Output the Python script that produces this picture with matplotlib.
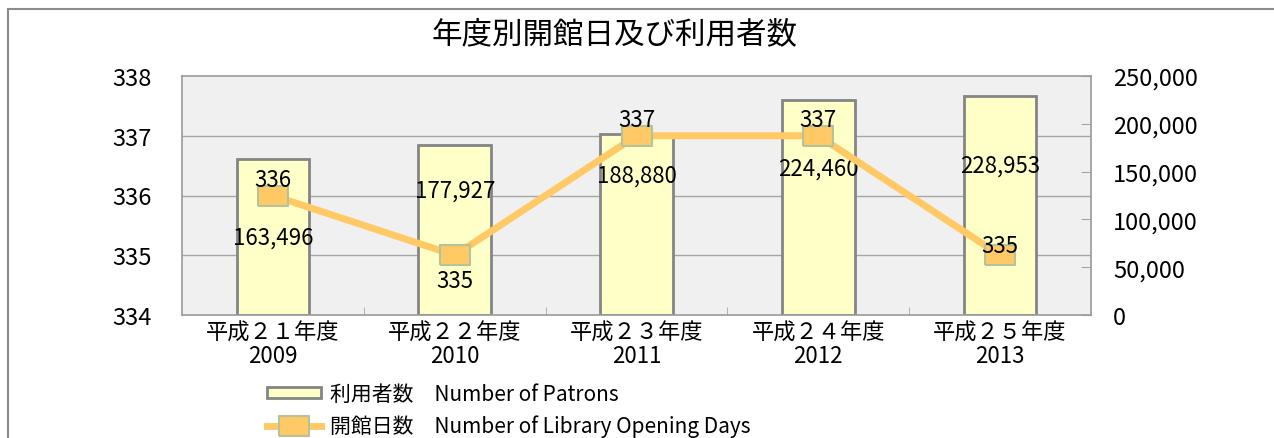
import matplotlib
matplotlib.use('Agg')
import matplotlib.pyplot as plt
import matplotlib.patches as mpatches
from matplotlib.ticker import FuncFormatter

plt.rcParams['font.family'] = ['Noto Sans CJK JP', 'DejaVu Sans']

# データ
years = ['平成２１年度\n2009', '平成２２年度\n2010', '平成２３年度\n2011',
         '平成２４年度\n2012', '平成２５年度\n2013']
patrons = [163496, 177927, 188880, 224460, 228953]
open_days = [336, 335, 337, 337, 335]

# ラベル位置 (利用者数の軸で)
patron_label_y = [81000, 131000, 146500, 153800, 157000]
# 開館日数ラベルのずれ (px)
day_label_dy = [16, -25, 16, 16, 10]

bar_color = '#ffffc8'
line_color = '#ffc966'
grid_color = '#a6a6a6'

fig = plt.figure(figsize=(12.74, 4.39), dpi=100)

# 外枠
frame = mpatches.Rectangle((8 / 1274, -0.1), 1.2, 1.1 - 10 / 439, transform=fig.transFigure,
                           fill=False, edgecolor='#8c8c8c', linewidth=1.5)
fig.patches.append(frame)

fig.text(615 / 1274, 1 - 35 / 439, '年度別開館日及び利用者数', ha='center', va='center',
         fontsize=22)

ax = fig.add_axes([182 / 1274, 1 - 316 / 439, (1091 - 182) / 1274, (316 - 77) / 439])
ax.set_facecolor('#f0f0f0')
x = list(range(len(years)))

# 利用者数 (右軸)
ax.set_ylim(0, 250000)
ax.set_xlim(-0.5, len(years) - 0.5)

# 左軸の目盛に合わせたグリッド
left_lo, left_hi = 334, 338
for v in [335, 336, 337]:
    ax.axhline((v - left_lo) / (left_hi - left_lo) * 250000, color=grid_color, lw=1, zorder=1)

bars = ax.bar(x, patrons, width=0.4, color=bar_color, edgecolor='#858585', linewidth=2,
              zorder=2, label='利用者数　Number of Patrons')
for i, v in enumerate(patrons):
    ax.text(x[i], patron_label_y[i], f'{v:,}', ha='center', va='center', fontsize=16, zorder=5)

ax.set_xticks(x)
ax.set_xticklabels(years, fontsize=16, linespacing=1.05)
ax.set_xticks([i + 0.5 for i in x[:-1]], minor=True)
ax.tick_params(axis='x', which='major', length=0, pad=4)
ax.tick_params(axis='x', which='minor', direction='in', length=6, color=grid_color)
for s in ax.spines.values():
    s.set_color('#9a9a9a')
    s.set_linewidth(1.2)

# 開館日数 (左軸)
ax2 = ax.twinx()
ax2.set_ylim(left_lo, left_hi)
ax2.yaxis.tick_left()
ax2.set_yticks(range(left_lo, left_hi + 1))
ax2.tick_params(axis='y', length=0, labelsize=17, pad=22)
for s in ax2.spines.values():
    s.set_visible(False)

# twinx の後で右側へ
ax.yaxis.tick_right()
ax.set_yticks(range(0, 250001, 50000))
ax.yaxis.set_major_formatter(FuncFormatter(lambda v, p: f'{int(v):,}'))
ax.tick_params(axis='y', which='both', left=False, right=True, labelleft=False, labelright=True,
               direction='in', length=7, color=grid_color, labelsize=17, pad=16)

rect_marker = [(-1.6, -1), (1.6, -1), (1.6, 1), (-1.6, 1), (-1.6, -1)]
line, = ax2.plot(x, open_days, color=line_color, lw=5, marker=rect_marker, markersize=22,
                 markerfacecolor=line_color, markeredgecolor='#b4c49a', markeredgewidth=1.5,
                 zorder=3, label='開館日数　Number of Library Opening Days')
for i, v in enumerate(open_days):
    ax2.annotate(str(v), (x[i], v), xytext=(0, day_label_dy[i]), textcoords='offset pixels',
                 ha='center', va='center', fontsize=16, zorder=5)

fig.legend(handles=[bars, line], labels=[bars.get_label(), line.get_label()],
           loc='upper left', bbox_to_anchor=(267 / 1274, 1 - 384 / 439), frameon=False,
           fontsize=15, handlelength=2.6, handleheight=0.4, handletextpad=0.4,
           labelspacing=0.45, borderpad=0, borderaxespad=0)

fig.savefig('out.png', dpi=100)
